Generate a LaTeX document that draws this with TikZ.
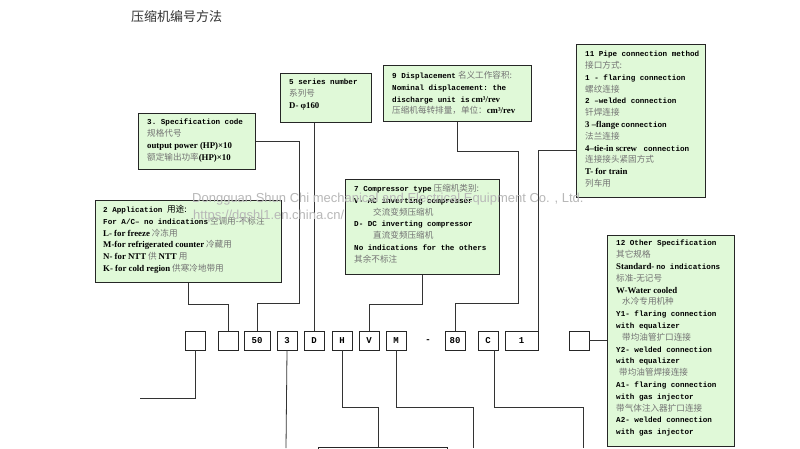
\documentclass[tikz,border=0pt]{standalone}
\usepackage{fontspec}
\setmainfont{Liberation Serif}
\setmonofont{Liberation Mono}
\newfontfamily\cjk{Noto Sans CJK SC}
\newfontfamily\wmfont{Liberation Sans}
\definecolor{boxfill}{RGB}{224,249,216}
\definecolor{zhgrey}{RGB}{115,115,115}
\newcommand\zh[1]{{\cjk\fontsize{8.6}{11.8}\selectfont\color{zhgrey}#1}}
\newcommand\zhb[1]{{\cjk\fontsize{8.6}{11.8}\selectfont #1}}
\newcommand\tm[1]{{\ttfamily\bfseries\fontsize{7.6}{11.8}\selectfont #1}}
\newcommand\bt[1]{{\bfseries\fontsize{8.8}{11.8}\selectfont #1}}
\begin{document}
\begin{tikzpicture}[x=1pt,y=-1pt,
  box/.style={draw=black!85, line width=0.9pt, fill=boxfill, inner sep=0pt, anchor=north west},
  txt/.style={anchor=north west, align=left, inner sep=0pt, font=\fontsize{7.8}{11.8}\selectfont},
  code/.style={draw=black!85, line width=0.9pt, minimum width=20pt, minimum height=19pt, inner sep=0pt, font=\ttfamily\bfseries\fontsize{9}{9}\selectfont},
  wire/.style={draw=black!80, line width=0.8pt},
  wm/.style={anchor=west, inner sep=0pt, text=black!28, font=\wmfont\fontsize{13}{13}\selectfont}]
\useasboundingbox (0,0) rectangle (800,448);
\fill[white] (0,0) rectangle (800,448);

% title
\node[anchor=west, inner sep=0pt, text=black!80, font=\cjk\fontsize{13}{13}\selectfont] (title) at (131,17) {压缩机编号方法};

% code row
\node[code] (cA) at (195,340.5) {};
\node[code] (cB) at (228,340.5) {};
\node[code, minimum width=26pt] (c50) at (257,340.5) {50};
\node[code] (c3) at (287,340.5) {3};
\node[code] (cD) at (314,340.5) {D};
\node[code] (cH) at (342,340.5) {H};
\node[code] (cV) at (369,340.5) {V};
\node[code] (cM) at (396,340.5) {M};
\node[inner sep=0pt, font=\ttfamily\bfseries\fontsize{9}{9}\selectfont] (dash) at (428,341.5) {-};
\node[code] (c80) at (455,340.5) {80};
\node[code] (cC) at (488,340.5) {C};
\node[code, minimum width=33pt] (c1) at (521.5,340.5) {1};
\node[code] (cL) at (579,340.5) {};

% boxes
\node[box, minimum width=117pt, minimum height=56pt] (b3) at (138,113) {};
\node[txt] (t3) at ([xshift=9pt,yshift=-6pt]b3.north west) {\tm{3. Specification code}\\ \zh{规格代号}\\ \bt{output power (HP)×10}\\ \zh{额定输出功率}\bt{(HP)×10}};

\node[box, minimum width=91pt, minimum height=49pt] (b5) at (280,73) {};
\node[txt] (t5) at ([xshift=9pt,yshift=-6pt]b5.north west) {\tm{5 series number}\\ \zh{系列号}\\ \bt{D- φ160}};

\node[box, minimum width=148pt, minimum height=56pt] (b9) at (383,65) {};
\node[txt] (t9) at ([xshift=9pt,yshift=-6pt]b9.north west) {\tm{9 Displacement} \zh{名义工作容积:}\\ \tm{Nominal displacement: the}\\ \tm{discharge unit is} \bt{cm³/rev}\\ \zh{压缩机每转排量，单位：}\bt{cm³/rev}};

\node[box, minimum width=129pt, minimum height=153pt] (b11) at (576,44) {};
\node[txt] (t11) at ([xshift=9pt,yshift=-7pt]b11.north west) {\tm{11 Pipe connection method}\\ \zh{接口方式:}\\ \tm{1 - flaring connection}\\ \zh{螺纹连接}\\ \tm{2 –welded connection}\\ \zh{钎焊连接}\\ \bt{3 –flange} \tm{connection}\\ \zh{法兰连接}\\ \bt{4–tie-in screw} \tm{ connection}\\ \zh{连接接头紧固方式}\\ \bt{T- for train}\\ \zh{列车用}};

\node[box, minimum width=186pt, minimum height=82pt] (b2) at (95,200) {};
\node[txt] (t2) at ([xshift=8pt,yshift=-5pt]b2.north west) {\tm{2 Application }\zhb{用途:}\\ \tm{For A/C– no indications} \zh{空调用-不标注}\\ \bt{L- for freeze} \zh{冷冻用}\\ \bt{M-for refrigerated counter} \zh{冷藏用}\\ \bt{N- for NTT} \zh{供} \bt{NTT} \zh{用}\\ \bt{K- for cold region} \zh{供寒冷地带用}};

\node[box, minimum width=154pt, minimum height=95pt] (b7) at (345,179) {};
\node[txt] (t7) at ([xshift=9pt,yshift=-5pt]b7.north west) {\tm{7 Compressor type} \zh{压缩机类别:}\\ \tm{V-  AC inverting compressor}\\ \hspace*{19pt}\zh{交流变频压缩机}\\ \tm{D-  DC inverting compressor}\\ \hspace*{19pt}\zh{直流变频压缩机}\\ \tm{No indications for the others}\\ \zh{其余不标注}};

\node[box, minimum width=127pt, minimum height=211pt] (b12) at (607,235) {};
\node[txt] (t12) at ([xshift=9pt,yshift=-5pt]b12.north west) {\tm{12 Other Specification}\\ \zh{其它规格}\\ \bt{Standard-} \tm{no indications}\\ \zh{标准-无记号}\\ \bt{W-Water cooled}\\ \hspace*{6pt}\zh{水冷专用机种}\\ \tm{Y1- flaring connection}\\ \tm{with equalizer}\\ \hspace*{6pt}\zh{带均油管扩口连接}\\ \tm{Y2- welded connection}\\ \tm{with equalizer}\\ \hspace*{3pt}\zh{带均油管焊接连接}\\ \tm{A1- flaring connection}\\ \tm{with gas injector}\\ \zh{带气体注入器扩口连接}\\ \tm{A2- welded connection}\\ \tm{with gas injector}};

\node[box, fill=white, minimum width=129pt, minimum height=20pt] (bb) at (318,447) {};

% upper connectors
\draw[wire] (b3.east) -| (299,303) -| (c50.north);
\draw[wire] (b2.south) -- ++(0,21) -| (cB.north);
\draw[wire] (cD.north |- b5.south) -- (cD.north);
\draw[wire] (b9.south) -- ++(0,29) -| (518,303) -| (c80.north);
\draw[wire] ([yshift=-29.5pt]b11.west) -| (c1.north east);
\draw[wire] (b7.south) -- ++(0,29) -| (cV.north);
\draw[wire] (cL.east) -- (b12.west |- cL.east);

% lower connectors
\coordinate (endA) at (140,398);
\coordinate (end3) at (286,448);
\coordinate (endM) at (473,448);
\coordinate (endC) at (583,448);
\draw[wire] (cA.south) |- (endA);
\draw[wire] (c3.south) -- (end3);
\draw[wire] (cH.south) -- ++(0,57) -| ([xshift=-5pt]bb.north);
\draw[wire] (cM.south) -- ++(0,57) -| (endM);
\draw[wire] ([xshift=6pt]cC.south) -- ++(0,57) -| (endC);

% watermark
\node[wm] (wm1) at (192,199) {Dongguan Shun Chi mechanical and Electrical Equipment Co. , Ltd.};
\node[wm] (wm2) at (193,216) {https://dgshl1.en.china.cn/};
\end{tikzpicture}
\end{document}
